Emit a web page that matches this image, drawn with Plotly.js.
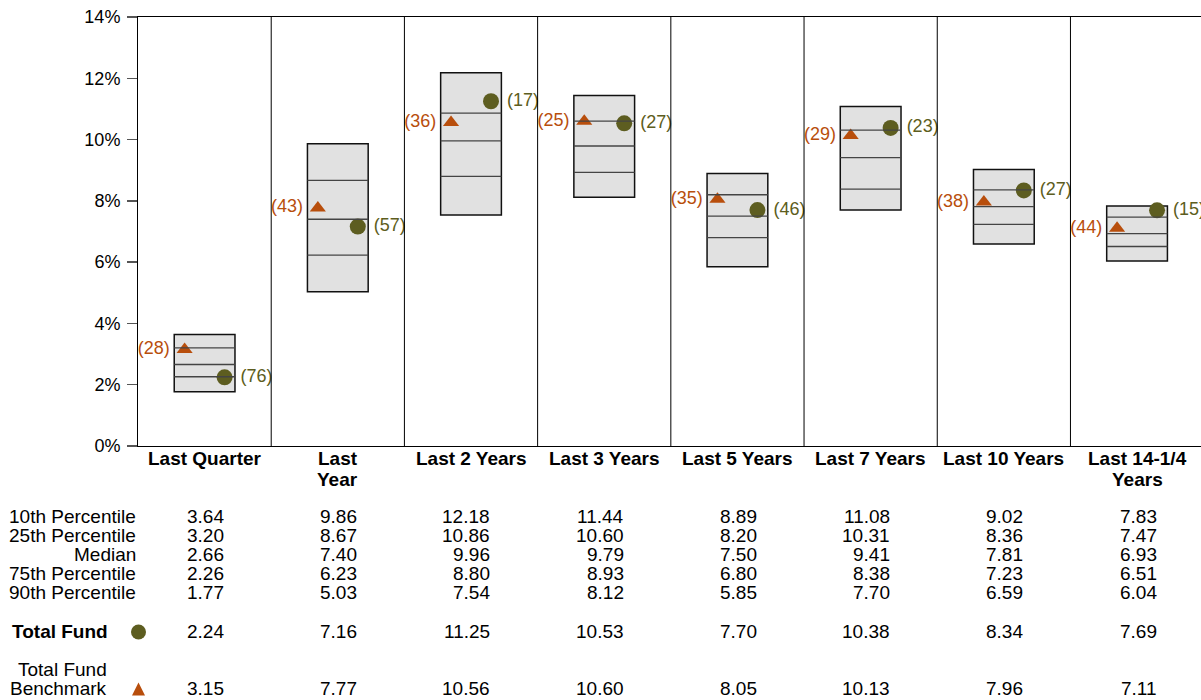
<!DOCTYPE html>
<html>
<head>
<meta charset="utf-8">
<script src="https://cdn.plot.ly/plotly-3.0.1.min.js"></script>
<style>html,body{margin:0;padding:0;background:#fff;}#chart{width:1201px;height:700px;}</style>
</head>
<body>
<div id="chart"></div>
<script>
const categories = ['Last Quarter','Last\nYear','Last 2 Years','Last 3 Years','Last 5 Years','Last 7 Years','Last 10 Years','Last 14-1/4\nYears'];
const p10 = [3.64, 9.86, 12.18, 11.44, 8.89, 11.08, 9.02, 7.83];
const p25 = [3.20, 8.67, 10.86, 10.60, 8.20, 10.31, 8.36, 7.47];
const median = [2.66, 7.40, 9.96, 9.79, 7.50, 9.41, 7.81, 6.93];
const p75 = [2.26, 6.23, 8.80, 8.93, 6.80, 8.38, 7.23, 6.51];
const p90 = [1.77, 5.03, 7.54, 8.12, 5.85, 7.70, 6.59, 6.04];
const totalFund = [2.24, 7.16, 11.25, 10.53, 7.70, 10.38, 8.34, 7.69];
const benchmark = [3.15, 7.77, 10.56, 10.60, 8.05, 10.13, 7.96, 7.11];
const fundRank = [76, 57, 17, 27, 46, 23, 27, 15];
const benchRank = [28, 43, 36, 25, 35, 29, 38, 44];
const rowLabels = ['10th Percentile','25th Percentile','Median','75th Percentile','90th Percentile'];
const fundLabel = 'Total Fund';
const benchLabel = ['Total Fund', 'Benchmark'];
const yTickVals = [0, 2, 4, 6, 8, 10, 12, 14];

const ORANGE = '#b84e0c';
const OLIVE = '#5d5d20';
const FONT = 'Arial, "Liberation Sans", sans-serif';
const FS = 19;

const W = 1201, H = 700, ML = 138, MT = 17, MB = 254;
const PH = H - MT - MB;
const XR = 7.98;
const PW = W - ML;
const yP = px => (H - MB - px) / PH;
const xP = px => (px - ML) / PW;
const NB = '\u00a0';

const centers = categories.map((_, i) => i + 0.5);
const half = 0.228, off = 0.15, valOff = 0.161;

const shapes = [];
for (let i = 1; i < categories.length; i++) {
  shapes.push({type:'line', xref:'x', yref:'y', x0:i, x1:i, y0:0, y1:14, line:{color:'#000', width:1}});
}
centers.forEach((c, i) => {
  shapes.push({type:'rect', xref:'x', yref:'y', x0:c-half, x1:c+half, y0:p90[i], y1:p10[i],
    fillcolor:'#e1e1e1', line:{color:'#111', width:1.5}, layer:'below'});
  [p25[i], median[i], p75[i]].forEach(v => {
    shapes.push({type:'line', xref:'x', yref:'y', x0:c-half, x1:c+half, y0:v, y1:v, line:{color:'#444', width:1.3}});
  });
});
shapes.push({type:'circle', xref:'paper', yref:'paper', xsizemode:'pixel', ysizemode:'pixel',
  xanchor:xP(138.5), yanchor:yP(632), x0:-7.5, x1:7.5, y0:-7.5, y1:7.5,
  fillcolor:OLIVE, line:{width:0}});
shapes.push({type:'path', xref:'paper', yref:'paper', xsizemode:'pixel', ysizemode:'pixel',
  xanchor:xP(138.5), yanchor:yP(689), path:'M -6.5 -6.5 L 6.5 -6.5 L 0 6.5 Z',
  fillcolor:ORANGE, line:{width:0}});

const traces = [
  {type:'scatter', mode:'markers+text', x:centers.map(c=>c-off), y:benchmark,
   text:benchRank.map(r=>'('+r+')'+NB), textposition:'middle left',
   textfont:{family:FONT, size:18, color:ORANGE},
   marker:{symbol:'triangle-up', size:14, color:ORANGE}, cliponaxis:false, hoverinfo:'skip'},
  {type:'scatter', mode:'markers+text', x:centers.map(c=>c+off), y:totalFund,
   text:fundRank.map(r=>NB+'('+r+')'), textposition:'middle right',
   textfont:{family:FONT, size:18, color:OLIVE},
   marker:{symbol:'circle', size:16, color:OLIVE}, cliponaxis:false, hoverinfo:'skip'}
];

const ann = [];
categories.forEach((c, i) => {
  c.split('\n').forEach((line, k) => {
    ann.push({xref:'x', yref:'paper', x:centers[i], y:yP(458.5 + 21*k), xanchor:'center', yanchor:'middle',
      text:'<b>'+line+'</b>', showarrow:false, borderpad:0, font:{family:FONT, size:FS, color:'#000'}});
  });
});
const rowY = [516, 535, 554, 573, 592];
const tableRows = [p10, p25, median, p75, p90];
rowLabels.forEach((lab, r) => {
  ann.push({xref:'paper', yref:'paper', x:xP(138), y:yP(rowY[r]), xanchor:'right', yanchor:'middle',
    text:lab, showarrow:false, font:{family:FONT, size:FS, color:'#000'}});
  tableRows[r].forEach((v, i) => {
    ann.push({xref:'x', yref:'paper', x:centers[i]+valOff, y:yP(rowY[r]), xanchor:'right', yanchor:'middle',
      text:v.toFixed(2), showarrow:false, font:{family:FONT, size:FS, color:'#000'}});
  });
});
ann.push({xref:'paper', yref:'paper', x:xP(10), y:yP(631), xanchor:'left', yanchor:'middle',
  text:'<b>'+fundLabel+'</b>', showarrow:false, font:{family:FONT, size:FS, color:'#000'}});
totalFund.forEach((v, i) => {
  ann.push({xref:'x', yref:'paper', x:centers[i]+valOff, y:yP(631), xanchor:'right', yanchor:'middle',
    text:v.toFixed(2), showarrow:false, font:{family:FONT, size:FS, color:'#000'}});
});
benchLabel.forEach((t, k) => {
  ann.push({xref:'paper', yref:'paper', x:xP(109), y:yP(669 + 19*k), xanchor:'right', yanchor:'middle',
    text:t, showarrow:false, font:{family:FONT, size:FS, color:'#000'}});
});
benchmark.forEach((v, i) => {
  ann.push({xref:'x', yref:'paper', x:centers[i]+valOff, y:yP(688), xanchor:'right', yanchor:'middle',
    text:v.toFixed(2), showarrow:false, font:{family:FONT, size:FS, color:'#000'}});
});

const layout = {
  width:W, height:H,
  margin:{l:ML, r:0, t:MT, b:MB, pad:0},
  paper_bgcolor:'#fff', plot_bgcolor:'#fff',
  showlegend:false,
  font:{family:FONT, color:'#000'},
  xaxis:{range:[0, XR], showticklabels:false, ticks:'', showgrid:false, zeroline:false,
    showline:true, linecolor:'#000', linewidth:1, mirror:true, fixedrange:true},
  yaxis:{range:[0, 14], tickvals:yTickVals, ticktext:yTickVals.map(v=>v+'%'),
    ticks:'outside', ticklen:10, tickwidth:1.5, tickcolor:'#555', ticklabelstandoff:3,
    showgrid:false, zeroline:false, showline:true, linecolor:'#000', linewidth:1, mirror:false,
    tickfont:{family:FONT, size:18, color:'#000'}, fixedrange:true},
  shapes:shapes,
  annotations:ann
};

Plotly.newPlot('chart', traces, layout, {displayModeBar:false, staticPlot:true});
</script>
</body>
</html>
